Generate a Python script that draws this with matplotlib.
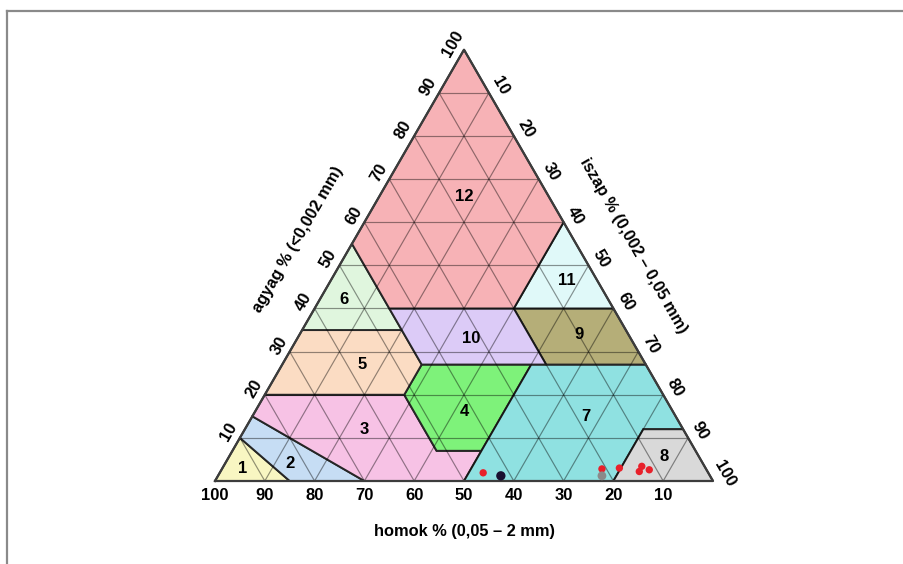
import matplotlib
matplotlib.use("Agg")
import matplotlib.pyplot as plt
from matplotlib.patches import Polygon
from matplotlib.lines import Line2D
import numpy as np

plt.rcParams['font.family'] = ['Liberation Sans', 'DejaVu Sans']
plt.rcParams['font.weight'] = 'bold'

# soil texture classes, vertices as (homok %, agyag %)
class_ids = ['1', '2', '3', '4', '5', '6', '7', '8', '9', '10', '11', '12']
class_polys = [
    [(100, 0), (90, 10), (85, 0)],
    [(85, 0), (90, 10), (85, 15), (70, 0)],
    [(70, 0), (85, 15), (80, 20), (52, 20), (52, 7), (43, 7), (50, 0)],
    [(43, 7), (52, 7), (52, 20), (45, 27), (23, 27)],
    [(80, 20), (65, 35), (45, 35), (45, 27), (52, 20)],
    [(65, 35), (45, 55), (45, 35)],
    [(50, 0), (43, 7), (23, 27), (0, 27), (0, 12), (8, 12), (20, 0)],
    [(20, 0), (8, 12), (0, 12), (0, 0)],
    [(20, 27), (0, 27), (0, 40), (20, 40)],
    [(45, 27), (20, 27), (20, 40), (45, 40)],
    [(20, 40), (0, 40), (0, 60)],
    [(45, 40), (20, 40), (0, 60), (0, 100), (45, 55)],
]
class_colors = ['#f8f6c2', '#c6ddf4', '#f7c2e5', '#7ef27a', '#fbdcc3', '#e0f6de',
                '#8fe1e1', '#d9d9d9', '#b5ae78', '#dccbf7', '#e0f9f9', '#f7b2b6']
# label spots (homok %, agyag %)
label_sand = [93, 83, 64, 42, 57, 53, 18, 7, 10, 32, 6, 17]
label_clay = [3, 4, 12, 16, 27, 42, 15, 5.6, 34, 33, 46.6, 66]

# samples
pt_sand = [45.2, 42.0, 20.9, 21.7, 17.3, 12.6, 13.7, 11.5]
pt_clay = [1.9, 1.2, 2.8, 1.2, 3.0, 3.4, 2.2, 2.6]
pt_color = ['#e8202a', '#1a1030', '#e8202a', '#8a8a8a', '#e8202a', '#e8202a', '#e8202a', '#e8202a']
pt_size = [28, 45, 28, 40, 28, 28, 28, 28]

ticks = [10, 20, 30, 40, 50, 60, 70, 80, 90, 100]

h = np.sqrt(3) / 2


def tern(sand, clay):
    sand = np.asarray(sand, float)
    clay = np.asarray(clay, float)
    silt = 100 - sand - clay
    return silt + clay / 2, clay * h


fig = plt.figure(figsize=(9.04, 5.64), dpi=100)
ax = fig.add_axes([0, 0, 1, 1])
sc = 4.98
ax.set_xlim(-215 / sc, (904 - 215) / sc)
ax.set_ylim(-(564 - 481) / sc, 481 / sc)
ax.axis('off')

for pts, col in zip(class_polys, class_colors):
    s, c = zip(*pts)
    x, y = tern(s, c)
    ax.add_patch(Polygon(np.column_stack([x, y]), closed=True, facecolor=col,
                         edgecolor='#262626', lw=1.4, zorder=1))

# grid
gkw = dict(color='black', alpha=0.42, lw=0.85, zorder=2)
for v in ticks[:-1]:
    ax.plot(*tern([100 - v, 0], [v, v]), **gkw)
    ax.plot(*tern([v, v], [0, 100 - v]), **gkw)
    ax.plot(*tern([0, 100 - v], [100 - v, 0]), **gkw)

ax.plot(*tern([100, 0, 0, 100], [0, 0, 100, 0]), color='#3c3c3c', lw=1.6, zorder=3)

for lab, s, c in zip(class_ids, label_sand, label_clay):
    x, y = tern(s, c)
    ax.text(x, y, lab, ha='center', va='center', fontsize=12, fontweight='bold', zorder=4)

ax.scatter(*tern(pt_sand, pt_clay), s=pt_size, c=pt_color, edgecolors='none', zorder=5)

# tick labels
for v in ticks:
    x, y = tern(v, 0)
    ax.text(x, y - 3.0, str(v), ha='center', va='center', fontsize=12, fontweight='bold')
    x, y = tern(100 - v, v)
    ax.text(x - 2.5 * h, y + 2.5 * 0.5, str(v), ha='center', va='center', rotation=60,
            fontsize=12, fontweight='bold')
    x, y = tern(0, 100 - v)
    ax.text(x + 2.8 * h, y + 2.8 * 0.5, str(v), ha='center', va='center', rotation=-60,
            fontsize=12, fontweight='bold')

ax.text(50.2, -10.2, 'homok % (0,05 – 2 mm)', ha='center', va='center', fontsize=11.8, fontweight='bold')
ax.text(16.7, 48.6, 'agyag % (<0,002 mm)', ha='center', va='center', rotation=60,
        fontsize=11.8, fontweight='bold')
ax.text(84.1, 47.2, 'iszap % (0,002 – 0,05 mm)', ha='center', va='center', rotation=-60,
        fontsize=11.8, fontweight='bold')

# screenshot frame
fx, fy = 7 / 904, 1 - 11 / 564
fig.add_artist(Line2D([fx, 1], [fy, fy], color='#8a8a8a', lw=1.6, transform=fig.transFigure))
fig.add_artist(Line2D([fx, fx], [0, fy], color='#8a8a8a', lw=1.6, transform=fig.transFigure))

fig.savefig('out.png', dpi=100)
